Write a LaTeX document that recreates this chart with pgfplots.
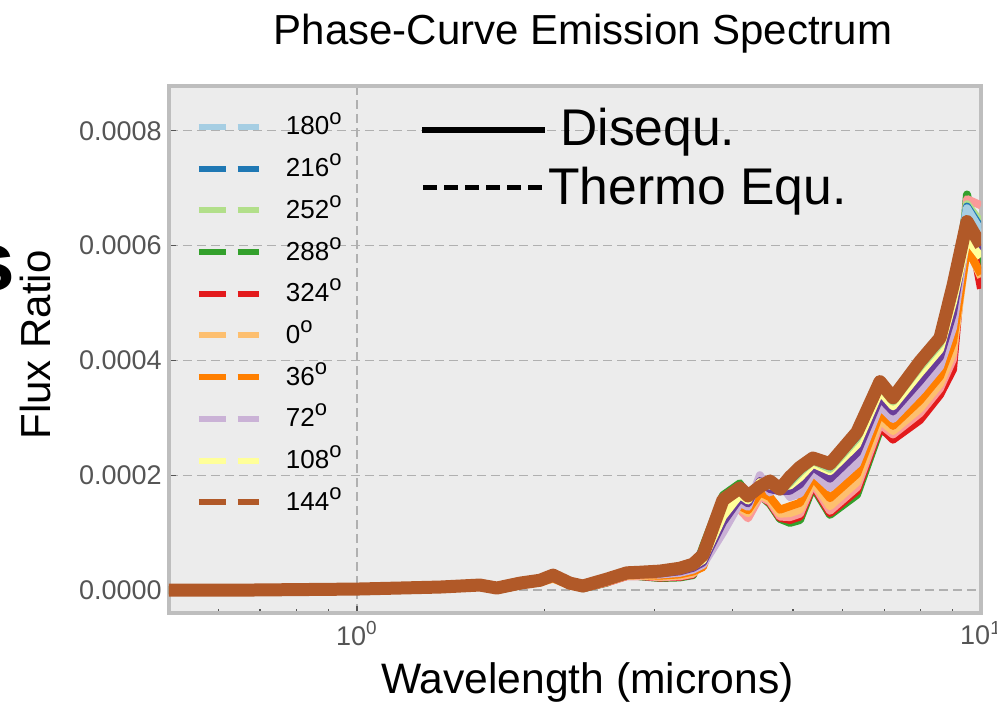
\documentclass[border=0pt]{standalone}
\usepackage{pgfplots}
\pgfplotsset{compat=1.18}
\usepackage{pgfplotstable}
\usepackage{fontspec}
\setmainfont{Liberation Sans}
\definecolor{cLB}{HTML}{A6CEE3}
\definecolor{cBL}{HTML}{1F78B4}
\definecolor{cLG}{HTML}{B2DF8A}
\definecolor{cGR}{HTML}{33A02C}
\definecolor{cPK}{HTML}{FB9A99}
\definecolor{cRD}{HTML}{E31A1C}
\definecolor{cLO}{HTML}{FDBF6F}
\definecolor{cOG}{HTML}{FF7F00}
\definecolor{cLV}{HTML}{CAB2D6}
\definecolor{cDP}{HTML}{6A3D9A}
\definecolor{cYL}{HTML}{FFFF99}
\definecolor{cBR}{HTML}{B15928}
\definecolor{bgc}{HTML}{ECECEC}
\definecolor{framec}{HTML}{BEBEBE}
\definecolor{gridc}{HTML}{B0B0B0}
\definecolor{labc}{HTML}{555555}
\newcommand{\dg}{\raisebox{0.42em}{\fontsize{11}{11}\selectfont o}}

% wavelength (micron) and flux ratio for each phase curve
\pgfplotstableread{
lam   br      lb      bl      lg      yl      dp      lv      og      lo      pk      rd      gr
0.5   0       0       0       0       0       0       0       0       0       0       0       0
0.674 0       0       0       0       0       0       0       0       0       0       0       0
1.0   1.7e-6  1.7e-6  1.6e-6  1.6e-6  1.5e-6  1.4e-6  1.2e-6  1.0e-6  0.9e-6  0.8e-6  0.8e-6  0.7e-6
1.172 3.5e-6  3.4e-6  3.4e-6  3.3e-6  3.1e-6  2.8e-6  2.5e-6  2.2e-6  1.9e-6  1.7e-6  1.6e-6  1.5e-6
1.358 5.2e-6  5.1e-6  5.0e-6  4.9e-6  4.6e-6  4.2e-6  3.7e-6  3.2e-6  2.8e-6  2.6e-6  2.4e-6  2.2e-6
1.574 8.7e-6  8.6e-6  8.5e-6  8.3e-6  8.0e-6  7.5e-6  7.0e-6  6.4e-6  5.9e-6  10e-6   10e-6   9.5e-6
1.676 3.5e-6  3.4e-6  3.3e-6  3.2e-6  2.8e-6  2.3e-6  1.8e-6  1.2e-6  0.7e-6  0.4e-6  0.2e-6  0
1.825 12e-6   11.8e-6 11.8e-6 11.6e-6 11.2e-6 10.7e-6 10e-6   9.3e-6  8.8e-6  8.5e-6  8.2e-6  8e-6
1.965 17e-6   16.8e-6 16.7e-6 16.5e-6 16e-6   15.3e-6 14.5e-6 13.6e-6 13e-6   19e-6   18e-6   19e-6
2.062 26e-6   25.7e-6 25.5e-6 25.2e-6 24.4e-6 23.4e-6 22e-6   20.6e-6 19.6e-6 29e-6   28e-6   29e-6
2.194 12e-6   11.8e-6 11.7e-6 11.5e-6 11e-6   10.3e-6 9.5e-6  8.6e-6  8e-6    13e-6   12e-6   12e-6
2.302 7e-6    6.8e-6  6.8e-6  6.6e-6  6.2e-6  5.7e-6  5e-6    4.3e-6  3.8e-6  3.5e-6  3.2e-6  3e-6
2.515 19e-6   18.8e-6 18.6e-6 18.4e-6 17.8e-6 17e-6   16e-6   15e-6   14.2e-6 13.7e-6 13.4e-6 13e-6
2.708 30e-6   29.8e-6 29.6e-6 29.4e-6 28.8e-6 28e-6   27e-6   26e-6   25.2e-6 24.7e-6 24.4e-6 31e-6
2.841 31e-6   30.7e-6 30.6e-6 30.3e-6 29.6e-6 28.7e-6 27.5e-6 26.3e-6 25.4e-6 24.8e-6 24.4e-6 24e-6
3.059 33e-6   32.5e-6 32.3e-6 31.8e-6 30.6e-6 29e-6   27e-6   25e-6   23.4e-6 22.4e-6 21.7e-6 21e-6
3.293 38e-6   37.4e-6 37e-6   36.4e-6 34.8e-6 32.7e-6 30e-6   27.3e-6 25.2e-6 23.9e-6 23e-6   22e-6
3.456 45e-6   44.2e-6 43.9e-6 43.1e-6 41.2e-6 38.7e-6 35.5e-6 32.3e-6 29.8e-6 28.3e-6 27.1e-6 26e-6
3.585 61e-6   66e-6   70e-6   68e-6   52e-6   48e-6   44e-6   40e-6   42e-6   64e-6   64e-6   75e-6
3.860 157e-6  160e-6  162e-6  162e-6  128e-6  118e-6  100e-6  135e-6  138e-6  152e-6  150e-6  165e-6
4.110 178e-6  176e-6  177e-6  178e-6  166e-6  160e-6  152e-6  146e-6  143e-6  140e-6  142e-6  186e-6
4.233 164e-6  162e-6  162e-6  161e-6  156e-6  151e-6  145e-6  139e-6  134e-6  125e-6  128e-6  129e-6
4.424 180e-6  178e-6  178e-6  177e-6  188e-6  190e-6  200e-6  170e-6  166e-6  163e-6  165e-6  165e-6
4.590 190e-6  188e-6  187e-6  186e-6  182e-6  176e-6  170e-6  162e-6  157e-6  154e-6  152e-6  150e-6
4.763 176e-6  174e-6  174e-6  172e-6  182e-6  172e-6  186e-6  140e-6  133e-6  128e-6  126e-6  124e-6
4.942 197e-6  192e-6  190e-6  187e-6  182e-6  173e-6  162e-6  146e-6  134e-6  127e-6  122e-6  117e-6
5.128 214e-6  210e-6  208e-6  205e-6  196e-6  184e-6  168e-6  152e-6  140e-6  133e-6  128e-6  122e-6
5.379 230e-6  228e-6  227e-6  225e-6  220e-6  214e-6  205e-6  196e-6  190e-6  186e-6  183e-6  180e-6
5.728 220e-6  216e-6  215e-6  211e-6  207e-6  194e-6  178e-6  160e-6  146e-6  138e-6  134e-6  131e-6
6.329 275e-6  271e-6  268e-6  264e-6  253e-6  239e-6  220e-6  202e-6  188e-6  179e-6  173e-6  166e-6
6.889 363e-6  360e-6  358e-6  355e-6  346e-6  335e-6  321e-6  307e-6  296e-6  289e-6  284e-6  279e-6
7.228 335e-6  332e-6  331e-6  328e-6  320e-6  311e-6  298e-6  286e-6  277e-6  271e-6  262e-6  270e-6
7.984 398e-6  394e-6  392e-6  388e-6  378e-6  364e-6  347e-6  330e-6  316e-6  308e-6  296e-6  305e-6
8.596 439e-6  435e-6  433e-6  429e-6  419e-6  406e-6  389e-6  372e-6  359e-6  351e-6  340e-6  345e-6
9.018 530e-6  524e-6  521e-6  515e-6  501e-6  482e-6  457e-6  432e-6  413e-6  402e-6  384e-6  395e-6
9.497 642e-6  665e-6  668e-6  672e-6  612e-6  628e-6  620e-6  595e-6  600e-6  681e-6  655e-6  689e-6
10.0  600e-6  625e-6  630e-6  640e-6  580e-6  590e-6  585e-6  550e-6  545e-6  670e-6  525e-6  560e-6
}\spec

\begin{document}
\begin{tikzpicture}
\useasboundingbox (0pt,0pt) rectangle (498.5pt,-353pt);
\clip (0pt,0pt) rectangle (498.5pt,-353pt);
\begin{axis}[
  at={(84.5pt,-306.5pt)}, anchor=south west,
  scale only axis, width=406pt, height=263.5pt,
  xmode=log, xmin=0.5, xmax=10, ymin=-0.00004, ymax=0.000878,
  scaled y ticks=false,
  axis background/.style={fill=bgc},
  axis line style={draw=framec, line width=1.6pt},
  xtick={1,10}, xticklabels={10\textsuperscript{0},10\textsuperscript{1}},
  minor xtick={0.6,0.7,0.8,0.9,2,3,4,5,6,7,8,9},
  ytick={0,0.0002,0.0004,0.0006,0.0008},
  yticklabels={0.0000,0.0002,0.0004,0.0006,0.0008},
  xtick pos=left, ytick pos=left,
  tick style={color=labc, line width=0.7pt},
  major tick length=3.5pt, minor tick length=2.2pt,
  grid=major,
  major grid style={dash pattern=on 4.5pt off 2.5pt, color=gridc, line width=0.65pt},
  tick label style={color=labc, font=\fontsize{13.5}{15}\selectfont},
  yticklabel style={inner sep=0pt, xshift=-3.5pt},
  xticklabel style={inner sep=0pt, yshift=-4pt},
  legend cell align=left,
  legend style={at={(0.03325,0.9488)}, anchor=north west, draw=none, fill=none,
    inner sep=0pt, outer sep=0pt, row sep=6.85pt, column sep=12pt,
    nodes={inner sep=0pt, text height=11pt, text depth=3pt},
    font=\fontsize{13}{15}\selectfont},
  legend image code/.code={\draw[#1, line width=3pt, dash pattern=on 13.5pt off 5.8pt] (0pt,0pt) -- (30pt,0pt);},
  every axis plot/.append style={line join=round, line width=4pt},
]
\addlegendimage{color=cLB}\addlegendentry{180\dg}
\addlegendimage{color=cBL}\addlegendentry{216\dg}
\addlegendimage{color=cLG}\addlegendentry{252\dg}
\addlegendimage{color=cGR}\addlegendentry{288\dg}
\addlegendimage{color=cRD}\addlegendentry{324\dg}
\addlegendimage{color=cLO}\addlegendentry{0\dg}
\addlegendimage{color=cOG}\addlegendentry{36\dg}
\addlegendimage{color=cLV}\addlegendentry{72\dg}
\addlegendimage{color=cYL}\addlegendentry{108\dg}
\addlegendimage{color=cBR}\addlegendentry{144\dg}

\addplot[forget plot, color=cGR] table[x=lam,y=gr]{\spec};
\addplot[forget plot, color=cRD] table[x=lam,y=rd]{\spec};
\addplot[forget plot, color=cPK] table[x=lam,y=pk]{\spec};
\addplot[forget plot, color=cLO] table[x=lam,y=lo]{\spec};
\addplot[forget plot, color=cOG] table[x=lam,y=og]{\spec};
\addplot[forget plot, color=cLV] table[x=lam,y=lv]{\spec};
\addplot[forget plot, color=cDP] table[x=lam,y=dp]{\spec};
\addplot[forget plot, color=cYL] table[x=lam,y=yl]{\spec};
\addplot[forget plot, color=cLG] table[x=lam,y=lg]{\spec};
\addplot[forget plot, color=cBL] table[x=lam,y=bl]{\spec};
\addplot[forget plot, color=cLB] table[x=lam,y=lb]{\spec};
\addplot[forget plot, color=cBR, line width=6.5pt] table[x=lam,y=br]{\spec};
\end{axis}

% titles and labels
\node[anchor=base, inner sep=0pt, font=\fontsize{21}{25}\selectfont] at (291.5pt,-22.5pt) {Phase-Curve Emission Spectrum};
\node[anchor=base, inner sep=0pt, font=\fontsize{21.3}{25}\selectfont] at (293.75pt,-346.5pt) {Wavelength (microns)};
\node[rotate=90, anchor=base, inner sep=0pt, font=\fontsize{21}{25}\selectfont] at (25pt,-172.5pt) {Flux Ratio};
\node[anchor=base east, inner sep=0pt, font=\bfseries\fontsize{42}{42}\selectfont] at (8pt,-145pt) {s};

% line-style key
\draw[line width=2.6pt] (211pt,-65pt) -- (272.5pt,-65pt);
\node[anchor=base west, inner sep=0pt, font=\fontsize{25.8}{30}\selectfont] at (280pt,-73pt) {Disequ.};
\draw[line width=2.5pt, dash pattern=on 7pt off 3.5pt] (211.5pt,-94pt) -- (271pt,-94pt);
\node[anchor=base west, inner sep=0pt, font=\fontsize{25.8}{30}\selectfont] at (274pt,-102.5pt) {Thermo Equ.};
\end{tikzpicture}
\end{document}
